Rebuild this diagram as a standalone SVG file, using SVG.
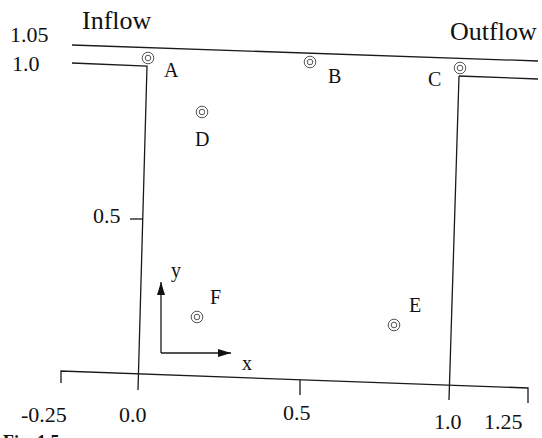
<svg xmlns="http://www.w3.org/2000/svg" width="542" height="438" viewBox="0 0 542 438">
<style>
.ln{stroke:#1a1a1a;stroke-width:1.3;fill:none}
.t{font-family:"Liberation Serif","Times New Roman",serif;fill:#111}
.lbl{font-size:20px}
.num{font-size:22px}
.hd{font-size:26px}
.pt{fill:none;stroke:#555;stroke-width:1}
</style>
<defs>
<marker id="ar" viewBox="0 0 13 8" refX="13" refY="4" markerWidth="13" markerHeight="8" markerUnits="userSpaceOnUse" orient="auto"><path d="M0,0 L13,4 L0,8 Z" fill="#111"/></marker>
<g id="probe"><circle r="5.8" class="pt"/><circle r="2.8" class="pt" stroke-width="0.8"/></g>
</defs>
<rect width="542" height="438" fill="#fff"/>
<g id="connectors">
<path class="ln" d="M72,45 L538,61"/>
<path class="ln" d="M72,63 L147,66 L138,390"/>
<path class="ln" d="M459,76 L538,79"/>
<path class="ln" d="M459,76 L449,400"/>
<path class="ln" d="M61,383 L61,371 L528,388 L528,403"/>
<path class="ln" d="M300,380 L300,395"/>
<path class="ln" d="M130,219 L143,219"/>
<path class="ln" d="M161,353 L161,282" marker-end="url(#ar)"/>
<path class="ln" d="M161,353 L231,353" marker-end="url(#ar)"/>
</g>
<g id="axis-labels">
<text class="t num" x="10" y="42">1.05</text>
<text class="t num" x="12" y="71">1.0</text>
<text class="t num" x="93" y="223">0.5</text>
<text class="t num" x="21" y="422">-0.25</text>
<text class="t num" x="119" y="422">0.0</text>
<text class="t num" x="283" y="420">0.5</text>
<text class="t num" x="434" y="429">1.0</text>
<text class="t num" x="484" y="429">1.25</text>
<text class="t hd" x="82" y="29">Inflow</text>
<text class="t hd" x="450" y="40">Outflow</text>
<text class="t lbl" x="171" y="277">y</text>
<text class="t lbl" x="242" y="370">x</text>
<text class="t" x="3" y="448" font-size="18" font-weight="bold">Fig. 1.5</text>
</g>
<g id="A"><use href="#probe" x="148" y="58"/><text class="t lbl" x="164" y="77">A</text></g>
<g id="B"><use href="#probe" x="310" y="62"/><text class="t lbl" x="328" y="83">B</text></g>
<g id="C"><use href="#probe" x="460" y="68"/><text class="t lbl" x="428" y="86">C</text></g>
<g id="D"><use href="#probe" x="202" y="112"/><text class="t lbl" x="195" y="146">D</text></g>
<g id="E"><use href="#probe" x="394" y="325"/><text class="t lbl" x="409" y="312">E</text></g>
<g id="F"><use href="#probe" x="197" y="317"/><text class="t lbl" x="210" y="304">F</text></g>
</svg>
